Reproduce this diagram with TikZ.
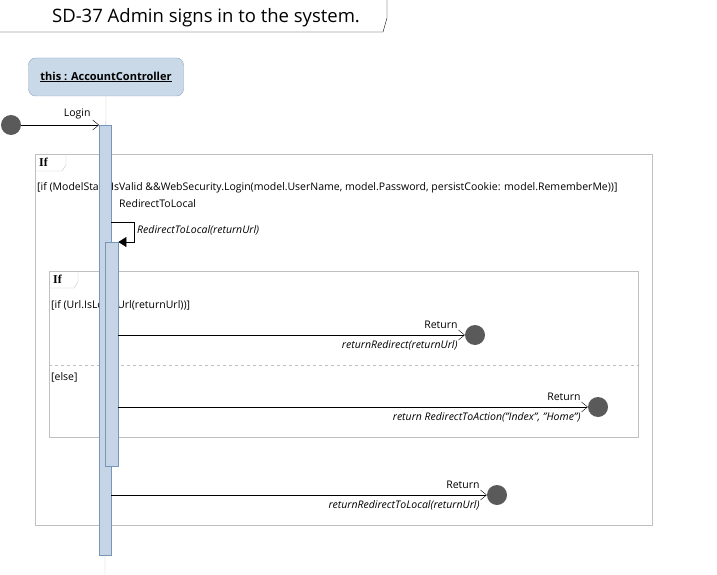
\documentclass[tikz,border=0pt]{standalone}
\usepackage{fontspec}
\setmainfont{Open Sans}
\newfontfamily\tabfont{Liberation Serif}
\usetikzlibrary{positioning, arrows.meta, calc}
\definecolor{headfill}{RGB}{201,217,232}
\definecolor{headdraw}{RGB}{140,166,196}
\definecolor{actfill}{RGB}{197,213,229}
\definecolor{actdraw}{RGB}{118,150,186}
\definecolor{dotcol}{RGB}{90,90,90}
\definecolor{framecol}{RGB}{192,192,192}

\begin{document}
\begin{tikzpicture}[
			x=1pt, y=-1pt,
			every node/.style={font=\fontsize{10.5}{12}\selectfont, inner sep=1pt},
			lifehead/.style={
				draw=headdraw,
				fill=headfill,
				rounded corners=7pt,
				minimum width=155pt,
				minimum height=38pt,
				font=\fontsize{11}{12}\selectfont\bfseries
			},
			actbar/.style={
				draw=actdraw,
				fill=actfill,
				inner sep=0pt
			},
			dot/.style={
				circle,
				fill=dotcol,
				minimum size=20pt,
				inner sep=0pt
			},
			frame/.style={draw=framecol},
			tab/.style={font=\fontsize{12}{13}\selectfont\tabfont\bfseries, anchor=west},
			guard/.style={anchor=west},
			msg/.style={
				-{Straight Barb[length=6pt,width=10pt]},
				thin
			},
			selfmsg/.style={
				-{Triangle[length=8pt,width=10pt]},
				thin
			},
			ret/.style={font=\fontsize{10.5}{12}\selectfont\itshape},
			above label/.style={pos=1, above left, xshift=-6pt, yshift=5pt},
			below label/.style={pos=1, below left, xshift=-6pt, yshift=-4pt, ret}
			]
			\useasboundingbox (0,0) rectangle (717,575);
			% Title
			\draw[thin] (0,32) -- (383,32) -- (387,18) -- (387,0);
			\node[font=\fontsize{18.5}{20}\selectfont] (title) at (206,18) {SD-37 Admin signs in to the system.};
			% Lifeline
			\node[lifehead] (head) at (106,77) {\underline{this : AccountController}};
			\coordinate (lifeend) at (105,575);
			\draw[framecol] (head.south) -- (lifeend);
			% Frames
			\draw[frame] (35,154) rectangle (652,525);
			\draw[frame] (35,171) -- (62,171) -- (66,165) -- (66,154);
			\node[tab] (ifA) at (38,162) {If};
			\node[guard] (guardA) at (36,188) {[if (ModelState.IsValid \&\&WebSecurity.Login(model.UserName, model.Password, persistCookie: model.RememberMe))]};
			\draw[frame] (49,271) rectangle (638,437);
			\draw[frame] (49,288) -- (74,288) -- (78,282) -- (78,271);
			\node[tab] (ifB) at (52,279) {If};
			\node[guard] (guardB) at (50,305) {[if (Url.IsLocalUrl(returnUrl))]};
			\draw[framecol, dashed] (49,365) -- (638,365);
			\node[guard] (guardC) at (50,377) {[else]};
			% Activations
			\node[actbar, minimum width=12pt, minimum height=430pt, anchor=north west] (act) at (99,125) {};
			\node[actbar, minimum width=13pt, minimum height=224pt, anchor=north west] (actinner) at (105,242) {};
			% Start
			\node[dot] (start) at (11,125) {};
			\draw[msg] (start.east) -- node[above, pos=0.72, yshift=5pt] {Login} (act.north west);
			% Self call
			\coordinate (selfout) at (134,222);
			\node[anchor=west] (selflbl) at (118,204) {RedirectToLocal};
			\draw[selfmsg] (act.east |- selfout) -- (selfout) |- (actinner.north east);
			\node[ret, anchor=west] (selfret) at (136,230) {RedirectToLocal(returnUrl)};
			% Returns
			\node[dot] (endA) at (475,335) {};
			\draw[msg] (actinner.east |- endA) -- node[above label] {Return} node[below label] {returnRedirect(returnUrl)} (endA.west);
			\node[dot] (endB) at (598,407) {};
			\draw[msg] (actinner.east |- endB) -- node[above label] {Return} node[below label] {return RedirectToAction("Index", "Home")} (endB.west);
			\node[dot] (endC) at (497,495) {};
			\draw[msg] (act.east |- endC) -- node[above label] {Return} node[below label] {returnRedirectToLocal(returnUrl)} (endC.west);
		\end{tikzpicture}
\end{document}
